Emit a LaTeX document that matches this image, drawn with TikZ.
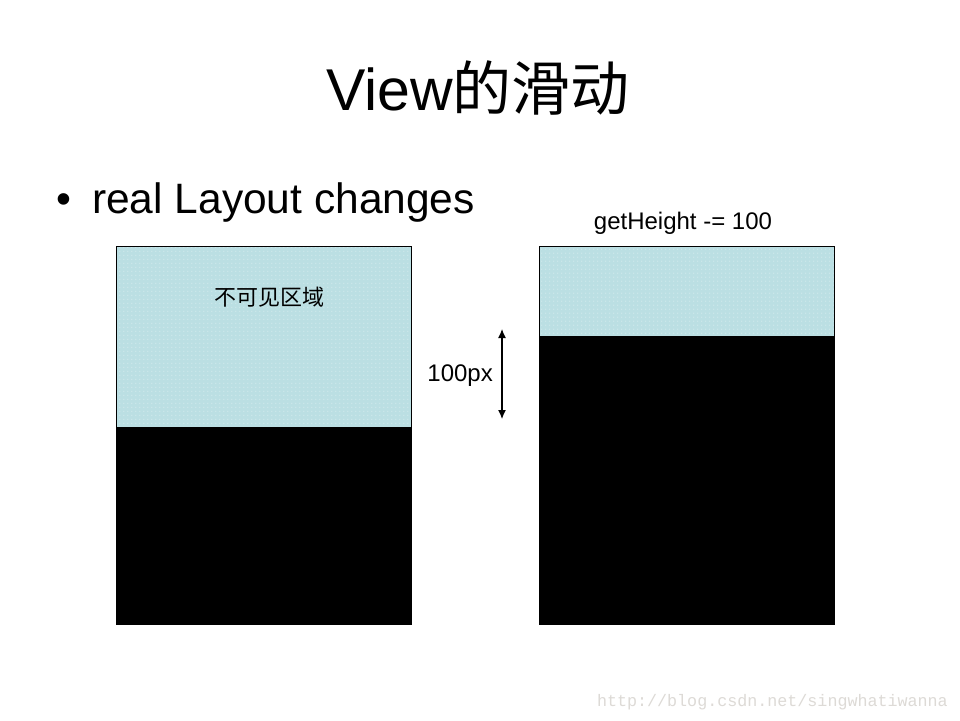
\documentclass[tikz,border=0pt]{standalone}
\usepackage{fontspec}
\setmainfont{Liberation Sans}
\newfontfamily\cjk{Noto Sans CJK SC}
\newfontfamily\wmfont{Liberation Mono}
\usetikzlibrary{arrows.meta,patterns.meta}
\definecolor{hidblue}{HTML}{BBDFE3}
\definecolor{wmgray}{HTML}{DDDAD6}
\tikzdeclarepattern{name=mydots, type=uncolored,
  bounding box={(0pt,0pt) and (4.3pt,4.3pt)},
  tile size={(4.3pt,4.3pt)},
  code={\fill (1pt,1pt) circle (0.45pt);}}
\tikzset{
  hidden/.style={fill=hidblue},
  dotsover/.style={pattern=mydots, pattern color=white},
  visible/.style={fill=black},
  frame/.style={draw=black, line width=1pt},
  smalltxt/.style={font=\fontsize{24}{28}\selectfont, inner sep=0pt},
}
\begin{document}
\begin{tikzpicture}[x=1pt,y=-1pt]
\useasboundingbox (0,0) rectangle (960,720);
\fill[white] (0,0) rectangle (960,720);
% title
\node[anchor=base, inner sep=0pt, font=\fontsize{59}{66}\selectfont] (title) at (478,110) {View{\cjk 的滑动}};
% bullet
\node[anchor=base west, inner sep=0pt, font=\fontsize{42.5}{48}\selectfont] (bullet) at (56,213) {•};
\node[anchor=base west, inner sep=0pt, font=\fontsize{42.5}{48}\selectfont] (body) at (92,213) {real Layout changes};
% left box
\fill[hidden] (116,246) rectangle (411,427);
\path[dotsover] (116,246) rectangle (411,427);
\fill[visible] (116,427) rectangle (411,624);
\draw[frame] (116,246) rectangle (411,624);
\node[anchor=center, inner sep=0pt, font=\cjk\fontsize{22}{26}\selectfont] (invis) at (269,297) {不可见区域};
% right box
\fill[hidden] (539,246) rectangle (834,336);
\path[dotsover] (539,246) rectangle (834,336);
\fill[visible] (539,336) rectangle (834,624);
\draw[frame] (539,246) rectangle (834,624);
\node[smalltxt, anchor=base] (geth) at (683,229) {getHeight -= 100};
% arrow
\coordinate (atop) at (502,329);
\coordinate (abot) at (502,419);
\draw[line width=1.2pt, {Latex[length=9pt,width=8pt]}-{Latex[length=9pt,width=8pt]}] (atop) -- (abot);
\node[smalltxt, anchor=base east] (px) at (493,381) {100px};
% watermark
\node[anchor=base east, inner sep=0pt, text=wmgray, font=\wmfont\fontsize{16.7}{20}\selectfont] (wm) at (948,706) {http://blog.csdn.net/singwhatiwanna};
\end{tikzpicture}
\end{document}
